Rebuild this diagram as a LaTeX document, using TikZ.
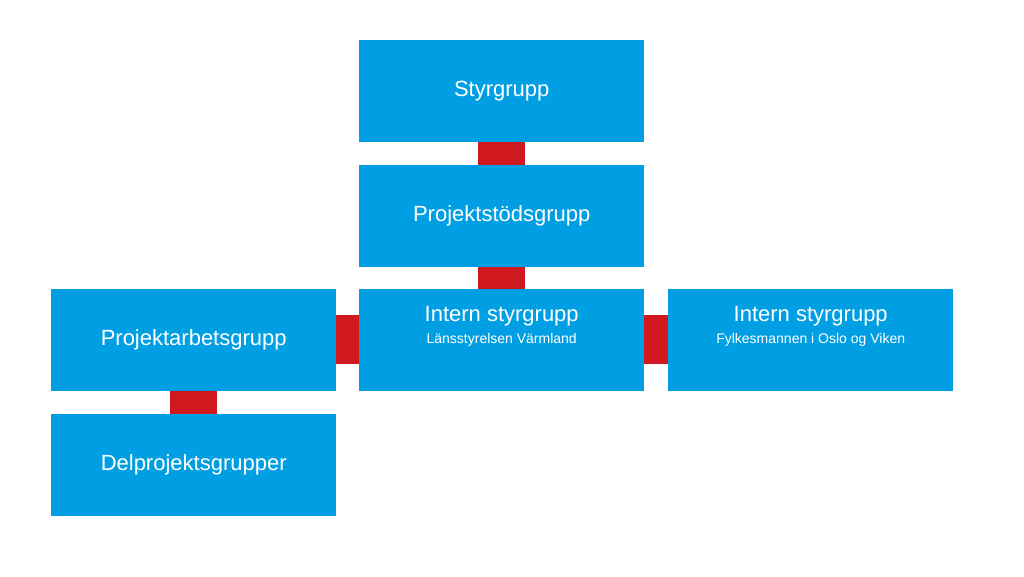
\documentclass[tikz,border=0pt]{standalone}
\usepackage{fontspec}
\setmainfont{Liberation Sans}
\definecolor{boxblue}{HTML}{009FE3}
\definecolor{linkred}{HTML}{D0191F}
\begin{document}
\begin{tikzpicture}[x=1pt,y=-1pt,
  box/.style={fill=boxblue,draw=none,minimum width=285pt,minimum height=102pt,inner sep=0pt,text=white,font=\fontsize{22}{24}\selectfont,align=center,anchor=north west},
  vlink/.style={fill=linkred,draw=none,minimum width=47pt,minimum height=23pt,inner sep=0pt,anchor=north west},
  hlink/.style={fill=linkred,draw=none,minimum width=24pt,minimum height=49pt,inner sep=0pt,anchor=north west},
  sub/.style={font=\fontsize{14}{16}\selectfont}]
\useasboundingbox (0,0) rectangle (1024,576);
\node[vlink] (l1) at (478,142) {};
\node[vlink] (l2) at (478,267) {};
\node[hlink] (l3) at (335,315) {};
\node[hlink] (l4) at (644,315) {};
\node[vlink] (l5) at (170,391) {};
\node[box] (styr) at (359,40) {Styrgrupp};
\node[box] (stod) at (359,165) {Projektstödsgrupp};
\node[box] (intern) at (359,289) {Intern styrgrupp\\[-2pt]{\fontsize{14}{16}\selectfont Länsstyrelsen Värmland}\\[6pt]};
\node[box] (fylke) at (668,289) {Intern styrgrupp\\[-2pt]{\fontsize{14}{16}\selectfont Fylkesmannen i Oslo og Viken}\\[6pt]};
\node[box] (arb) at (51,289) {Projektarbetsgrupp};
\node[box] (del) at (51,414) {Delprojektsgrupper};
\end{tikzpicture}
\end{document}
